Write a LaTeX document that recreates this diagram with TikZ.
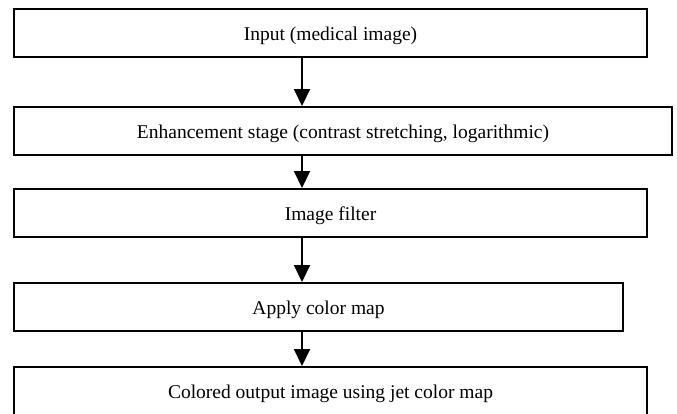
\documentclass[tikz,border=0pt]{standalone}
\usepackage{fontspec}
\setmainfont{Liberation Serif}
\usetikzlibrary{arrows.meta}
\begin{document}
\begin{tikzpicture}[x=1pt,y=-1pt,
  box/.style={draw=black, line width=2pt, rectangle, inner sep=0pt, minimum height=48pt,
    font=\fontsize{19.5}{23}\selectfont, text depth=0pt, anchor=center},
  arr/.style={line width=2pt, -{Triangle[width=16pt,length=17pt]}}]
\useasboundingbox (0,0) rectangle (677,413);
\node[box, minimum width=633pt] (b1) at (330.5,33) {\raisebox{-2pt}{Input (medical image)}};
\node[box, minimum width=658pt] (b2) at (343,131) {\raisebox{-2pt}{Enhancement stage (contrast stretching, logarithmic)}};
\node[box, minimum width=633pt] (b3) at (330.5,213) {\raisebox{-2pt}{Image filter}};
\node[box, minimum width=609pt] (b4) at (318.5,307) {\raisebox{-2pt}{Apply color map}};
\node[box, minimum width=633pt] (b5) at (330.5,391) {\raisebox{-2pt}{Colored output image using jet color map}};
\coordinate (ax) at (302,0);
\draw[arr] (b1.south -| ax) -- (b2.north -| ax);
\draw[arr] (b2.south -| ax) -- (b3.north -| ax);
\draw[arr] (b3.south -| ax) -- (b4.north -| ax);
\draw[arr] (b4.south -| ax) -- (b5.north -| ax);
\end{tikzpicture}
\end{document}
